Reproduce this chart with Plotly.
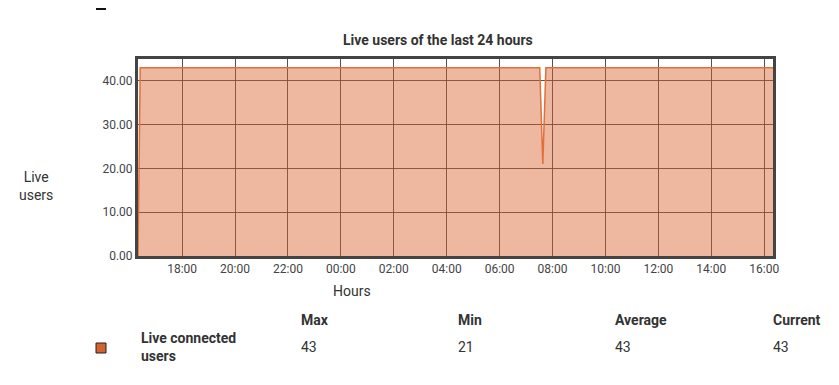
import plotly.graph_objects as go

# ---- data ----
times = [
    "2024-01-01 16:20", "2024-01-01 16:25", "2024-01-02 07:31",
    "2024-01-02 07:38", "2024-01-02 07:45", "2024-01-02 16:20",
]
live_users = [0, 43, 43, 21, 43, 43]
y_ticks = [0, 10, 20, 30, 40]
stat_headers = ["Max", "Min", "Average", "Current"]
stat_values = ["43", "21", "43", "43"]
series_name = "Live connected users"

OFF = 8  # page body margin
W, H = 839, 385
L, R, T, B = 138 - OFF, 839 - 773 + OFF, 59 - OFF, 385 - 256 + OFF
FONT = "Roboto"
TXT = "#333333"

fig = go.Figure()
fig.add_trace(go.Scatter(
    x=times, y=live_users, mode="lines",
    line=dict(color="#E0703C", width=1.5),
    fill="tozeroy", fillcolor="rgba(214,96,44,0.45)",
    name=series_name, showlegend=False, hoverinfo="x+y",
))

fig.update_layout(
    width=W, height=H,
    margin=dict(l=L, r=R, t=T, b=B),
    paper_bgcolor="white", plot_bgcolor="white",
    font=dict(family=FONT, size=12, color="#444"),
    xaxis=dict(
        type="date", range=["2024-01-01 16:20", "2024-01-02 16:20"],
        tickformat="%H:%M", dtick=2 * 3600 * 1000,
        tick0="2024-01-01 18:00",
        showgrid=True, gridcolor="rgba(50,50,50,0.85)", gridwidth=1,
        showline=True, linecolor="#444", linewidth=3, mirror=True,
        ticks="", ticklen=0, zeroline=False,
        tickfont=dict(size=12, color="#444"),
    ),
    yaxis=dict(
        range=[0, 45], tickvals=y_ticks, tickformat=".2f",
        showgrid=True, gridcolor="rgba(50,50,50,0.85)", gridwidth=1,
        showline=True, linecolor="#444", linewidth=3, mirror=True,
        ticks="", zeroline=False,
        tickfont=dict(size=12, color="#444"),
    ),
)

def px_x(px):
    return (px - OFF - L) / (W - L - R)

def px_y(py):
    return 1 - (py - OFF - T) / (H - T - B)

ann = []
ann.append(dict(text="<b>Live users of the last 24 hours</b>", x=px_x(438), y=px_y(40),
                font=dict(size=14, color=TXT)))
ann.append(dict(text="Live<br>users", x=px_x(36), y=px_y(186),
                font=dict(size=14, color=TXT)))
ann.append(dict(text="Hours", x=px_x(352), y=px_y(291),
                font=dict(size=14, color=TXT)))
col_x = [299, 456, 613, 771]
for cx, h, v in zip(col_x, stat_headers, stat_values):
    ann.append(dict(text="<b>" + h + "</b>", x=px_x(cx), y=px_y(320), xanchor="left",
                    font=dict(size=14, color=TXT)))
    ann.append(dict(text=v, x=px_x(cx), y=px_y(347), xanchor="left",
                    font=dict(size=14, color=TXT)))
ann.append(dict(text="<b>" + series_name.replace(" users", "<br>users") + "</b>",
                x=px_x(139), y=px_y(347), xanchor="left", align="left",
                font=dict(size=14, color=TXT)))
for a in ann:
    a.setdefault("xanchor", "center")
    a.update(xref="paper", yref="paper", yanchor="middle", showarrow=False)
fig.update_layout(annotations=ann)

fig.add_shape(type="rect", xref="paper", yref="paper",
              x0=px_x(96), x1=px_x(106), y0=px_y(343), y1=px_y(353),
              fillcolor="#D4622E", line=dict(color="#222", width=1))
fig.add_shape(type="rect", xref="paper", yref="paper",
              x0=px_x(96), x1=px_x(106), y0=px_y(8), y1=px_y(10),
              fillcolor="#111", line=dict(width=0))

fig.write_html("out.html")
